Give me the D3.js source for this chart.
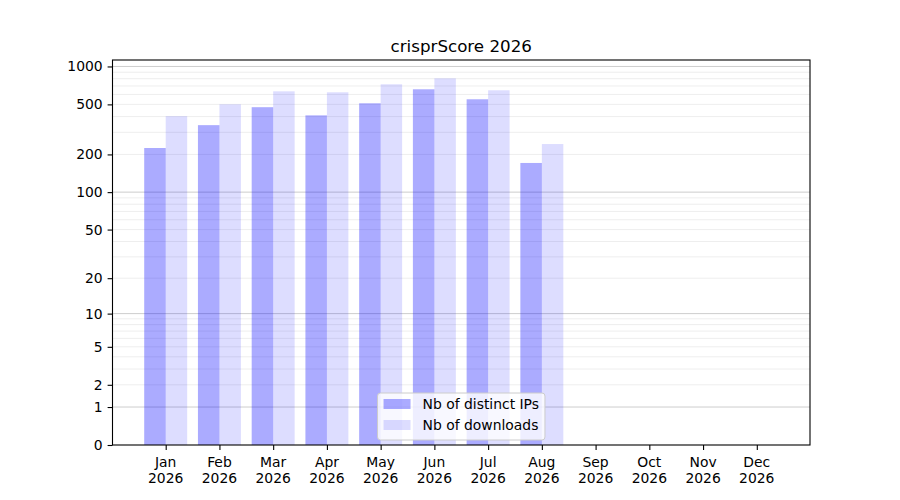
<!DOCTYPE html>
<html>
<head>
<meta charset="utf-8">
<script src="https://cdn.jsdelivr.net/npm/d3@7"></script>
<style>
  body { margin: 0; background: #fff; }
  svg { font-family: "DejaVu Sans", sans-serif; }
</style>
</head>
<body>
<svg id="chart" width="900" height="500"></svg>
<script>
'use strict';

// data
const months = ['Jan', 'Feb', 'Mar', 'Apr', 'May', 'Jun', 'Jul', 'Aug', 'Sep', 'Oct', 'Nov', 'Dec'];
const year = '2026';
const distinctIPs = [225, 342, 475, 409, 510, 659, 549, 171, 0, 0, 0, 0];
const downloads = [403, 501, 635, 624, 722, 805, 647, 242, 0, 0, 0, 0];
const yTickValues = [0, 1, 2, 5, 10, 20, 50, 100, 200, 500, 1000];
const seriesNames = ['Nb of distinct IPs', 'Nb of downloads'];

const svg = d3.select('#chart');
const plotLeft = 112.5, plotRight = 810, plotTop = 60, plotBottom = 445;
const barW = 0.4;
const fontSize = 13.9;

// x: categorical positions 0..11 with 5% margin like matplotlib
const xMin = -barW, xMax = months.length - 1 + barW;
const xPad = (xMax - xMin) * 0.05;
const x = d3.scaleLinear().domain([xMin - xPad, xMax + xPad]).range([plotLeft, plotRight]);

// y: symlog, top = 5% margin in transformed space
const yMaxData = d3.max(downloads.concat(distinctIPs));
const yTop = Math.expm1(Math.log1p(yMaxData) * 1.05);
const y = d3.scaleSymlog().constant(1).domain([0, yTop]).range([plotBottom, plotTop]);

// gridlines
const gridG = svg.append('g');
const minor = [];
[1, 10, 100].forEach(function (d) {
    for (let k = 2; k <= 9; k++) minor.push(d * k);
});
gridG.selectAll('line.minor').data(minor.filter((v) => v < yTop)).enter().append('line')
    .attr('class', 'minor')
    .attr('x1', plotLeft).attr('x2', plotRight)
    .attr('y1', (d) => y(d)).attr('y2', (d) => y(d))
    .attr('stroke', '#000').attr('stroke-opacity', 0.07).attr('stroke-width', 1);
gridG.selectAll('line.major').data([1, 10, 100, 1000]).enter().append('line')
    .attr('class', 'major')
    .attr('x1', plotLeft).attr('x2', plotRight)
    .attr('y1', (d) => y(d)).attr('y2', (d) => y(d))
    .attr('stroke', '#000').attr('stroke-opacity', 0.2).attr('stroke-width', 1);

// bars
const barG = svg.append('g');
barG.selectAll('rect.ips').data(distinctIPs).enter().append('rect')
    .attr('class', 'ips')
    .attr('x', (d, i) => x(i - barW))
    .attr('width', (d, i) => x(i) - x(i - barW))
    .attr('y', (d) => y(d))
    .attr('height', (d) => y(0) - y(d))
    .attr('fill', 'blue').attr('fill-opacity', 0.33);
barG.selectAll('rect.dl').data(downloads).enter().append('rect')
    .attr('class', 'dl')
    .attr('x', (d, i) => x(i))
    .attr('width', (d, i) => x(i + barW) - x(i))
    .attr('y', (d) => y(d))
    .attr('height', (d) => y(0) - y(d))
    .attr('fill', 'blue').attr('fill-opacity', 0.133);

// y axis
const yAxis = d3.axisLeft(y).tickValues(yTickValues).tickFormat(d3.format('d'))
    .tickSize(4.9).tickPadding(4.9);
const yG = svg.append('g').attr('transform', 'translate(' + plotLeft + ',0)').call(yAxis);
yG.select('.domain').remove();
yG.selectAll('text').attr('font-size', fontSize).attr('fill', '#000')
    .attr('font-family', '"DejaVu Sans", sans-serif');
yG.selectAll('line').attr('stroke', '#000').attr('stroke-width', 1.1);

// x axis
const xAxis = d3.axisBottom(x).tickValues(d3.range(months.length)).tickFormat('')
    .tickSize(4.9);
const xG = svg.append('g').attr('transform', 'translate(0,' + plotBottom + ')').call(xAxis);
xG.select('.domain').remove();
xG.selectAll('line').attr('stroke', '#000').attr('stroke-width', 1.1);
const xLabels = svg.append('g').selectAll('text').data(months).enter().append('text')
    .attr('x', (d, i) => x(i))
    .attr('y', plotBottom + 21.5)
    .attr('text-anchor', 'middle')
    .attr('font-size', fontSize);
xLabels.append('tspan').attr('x', (d, i) => x(i)).text((d) => d);
xLabels.append('tspan').attr('x', (d, i) => x(i)).attr('dy', 16).text(year);

// frame
svg.append('rect')
    .attr('x', plotLeft).attr('y', plotTop)
    .attr('width', plotRight - plotLeft).attr('height', plotBottom - plotTop)
    .attr('fill', 'none').attr('stroke', '#000').attr('stroke-width', 1.1);

// title
svg.append('text')
    .attr('x', (plotLeft + plotRight) / 2).attr('y', plotTop - 8)
    .attr('text-anchor', 'middle')
    .attr('font-size', 16.7)
    .text('crisprScore ' + year);

// legend, lower center
const legendG = svg.append('g');
const legendBox = legendG.append('rect')
    .attr('fill', '#fff').attr('fill-opacity', 0.8)
    .attr('stroke', '#ccc').attr('stroke-width', 1).attr('rx', 3);
const legendColors = [0.33, 0.133];
const rows = legendG.selectAll('g.row').data(seriesNames).enter().append('g').attr('class', 'row');
rows.append('rect')
    .attr('x', 6).attr('y', (d, i) => 6 + i * 21)
    .attr('width', 27).attr('height', 10)
    .attr('fill', 'blue').attr('fill-opacity', (d, i) => legendColors[i]);
rows.append('text')
    .attr('x', 45).attr('y', (d, i) => 16 + i * 21)
    .attr('font-size', fontSize)
    .text((d) => d);
let textW = 0;
rows.selectAll('text').each(function () { textW = Math.max(textW, this.getComputedTextLength()); });
const boxW = 45 + textW + 6, boxH = 47;
legendBox.attr('width', boxW).attr('height', boxH);
legendG.attr('transform', 'translate(' + ((plotLeft + plotRight) / 2 - boxW / 2) + ',' + (plotBottom - 5 - boxH) + ')');
</script>
</body>
</html>
